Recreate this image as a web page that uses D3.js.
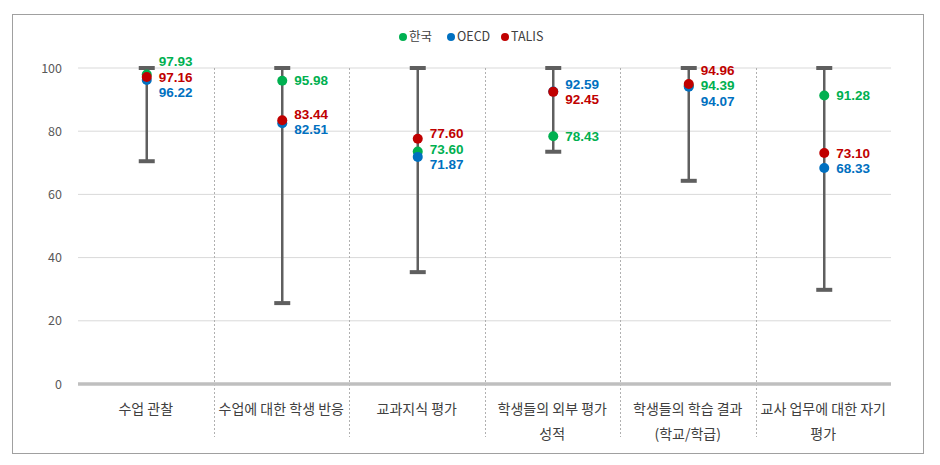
<!DOCTYPE html>
<html><head><meta charset="utf-8">
<script src="https://cdn.jsdelivr.net/npm/d3@7"></script>
<style>
body{margin:0;background:#fff;}
svg text{font-family:"Noto Sans CJK KR","Noto Sans",sans-serif;}
</style></head>
<body><svg id="c" width="940" height="465"></svg>
<script>
const categories = ["수업 관찰","수업에 대한 학생 반응","교과지식 평가","학생들의 외부 평가\n성적","학생들의 학습 결과\n(학교/학급)","교사 업무에 대한 자기\n평가"];
const rangeLow = [70.5, 25.6, 35.4, 73.5, 64.3, 29.8];
const rangeHigh = [100, 100, 100, 100, 100, 100];
const korea = [97.93, 95.98, 73.60, 78.43, 94.39, 91.28];
const oecd  = [96.22, 82.51, 71.87, 92.59, 94.07, 68.33];
const talis = [97.16, 83.44, 77.60, 92.45, 94.96, 73.10];
const seriesNames = ["한국","OECD","TALIS"];
const seriesColors = ["#00b050","#0070c0","#c00000"];
const yTicks = [0,20,40,60,80,100];

const svg = d3.select("#c");
svg.append("rect").attr("x",12.5).attr("y",14.5).attr("width",911).attr("height",439)
  .attr("fill","#fff").attr("stroke","#a0a0a0").attr("stroke-width",1);

const L=78, R=891, T=68, B=384;
const x = d3.scaleBand().domain(categories).range([L,R]);
const y = d3.scaleLinear().domain([0,100]).range([B,T]);

// gridlines
svg.append("g").selectAll("line").data(yTicks.filter(d=>d>0)).join("line")
  .attr("x1",L).attr("x2",R).attr("y1",d=>y(d)).attr("y2",d=>y(d))
  .attr("stroke","#d9d9d9").attr("stroke-width",1);

// dividers
svg.append("g").selectAll("line").data(categories.slice(1)).join("line")
  .attr("x1",d=>Math.round(x(d))+0.5).attr("x2",d=>Math.round(x(d))+0.5)
  .attr("y1",T).attr("y2",437)
  .attr("stroke","#b0b0b0").attr("stroke-width",1).attr("stroke-dasharray","2,2");

// zero line
svg.append("line").attr("x1",L).attr("x2",R).attr("y1",y(0)).attr("y2",y(0))
  .attr("stroke","#bfbfbf").attr("stroke-width",3.5);

// y axis labels
const yAxis = d3.axisLeft(y).tickValues(yTicks).tickSize(0).tickPadding(0);
const ya = svg.append("g").attr("transform",`translate(${62},0)`).call(yAxis);
ya.select(".domain").remove();
ya.selectAll("text").attr("font-size",12.5).attr("fill","#595959")
  .attr("font-family","'Noto Sans CJK KR',sans-serif");

// x labels
categories.forEach(c=>{
  const lines = c.split("\n");
  const t = svg.append("text").attr("text-anchor","middle").attr("font-size",14).attr("fill","#404040");
  lines.forEach((ln,i)=>{
    t.append("tspan").attr("x",x(c)+x.bandwidth()/2).attr("y",414+i*25).text(ln);
  });
});

// whiskers
const cx = c => x(c)+x.bandwidth()/2 + 1;
const wg = svg.append("g");
categories.forEach((c,i)=>{
  wg.append("line").attr("x1",cx(c)).attr("x2",cx(c)).attr("y1",y(rangeHigh[i])).attr("y2",y(rangeLow[i]))
    .attr("stroke","#5f5f5f").attr("stroke-width",2.5);
  [rangeHigh[i],rangeLow[i]].forEach(v=>{
    wg.append("line").attr("x1",cx(c)-8).attr("x2",cx(c)+8).attr("y1",y(v)).attr("y2",y(v))
      .attr("stroke","#5f5f5f").attr("stroke-width",4);
  });
});

// points
const series = [korea, oecd, talis];
[0,1,2].forEach(s=>{
  svg.append("g").selectAll("circle").data(categories).join("circle")
    .attr("cx",d=>cx(d)).attr("cy",(d,i)=>y(series[s][i])).attr("r",5)
    .attr("fill",seriesColors[s]);
});

// labels with collision avoidance
const gap = 15.5;
categories.forEach((c,i)=>{
  let items = series.map((arr,s)=>({s, v:arr[i], py:y(arr[i])}));
  items.sort((a,b)=> b.v - a.v);
  let groups = items.map(it=>({items:[it], center:it.py}));
  let changed = true;
  while(changed){
    changed=false;
    for(let k=0;k<groups.length-1;k++){
      const a=groups[k], b=groups[k+1];
      const aBot = a.center + (a.items.length-1)*gap/2;
      const bTop = b.center - (b.items.length-1)*gap/2;
      if(bTop - aBot < gap){
        const all = a.items.concat(b.items);
        const mean = d3.mean(all, d=>d.py);
        groups.splice(k,2,{items:all, center:mean});
        changed=true; break;
      }
    }
  }
  groups.forEach(g=>{
    g.items.forEach((it,j)=>{
      const ly = g.center + (j-(g.items.length-1)/2)*gap;
      svg.append("text").attr("x",cx(c)+12).attr("y",ly).attr("dy","0.35em")
        .attr("font-size",13.5).attr("font-weight","bold").attr("fill",seriesColors[it.s])
        .style("font-family","'Liberation Sans',Arial,sans-serif")
        .text(it.v.toFixed(2));
    });
  });
});

// legend
const legX = [403, 451, 505];
seriesNames.forEach((n,s)=>{
  svg.append("circle").attr("cx",legX[s]).attr("cy",37).attr("r",4).attr("fill",seriesColors[s]);
  svg.append("text").attr("x",legX[s]+6).attr("y",37).attr("dy","0.35em").attr("font-size",12.5)
    .attr("fill","#404040").text(n);
});
</script></body></html>
